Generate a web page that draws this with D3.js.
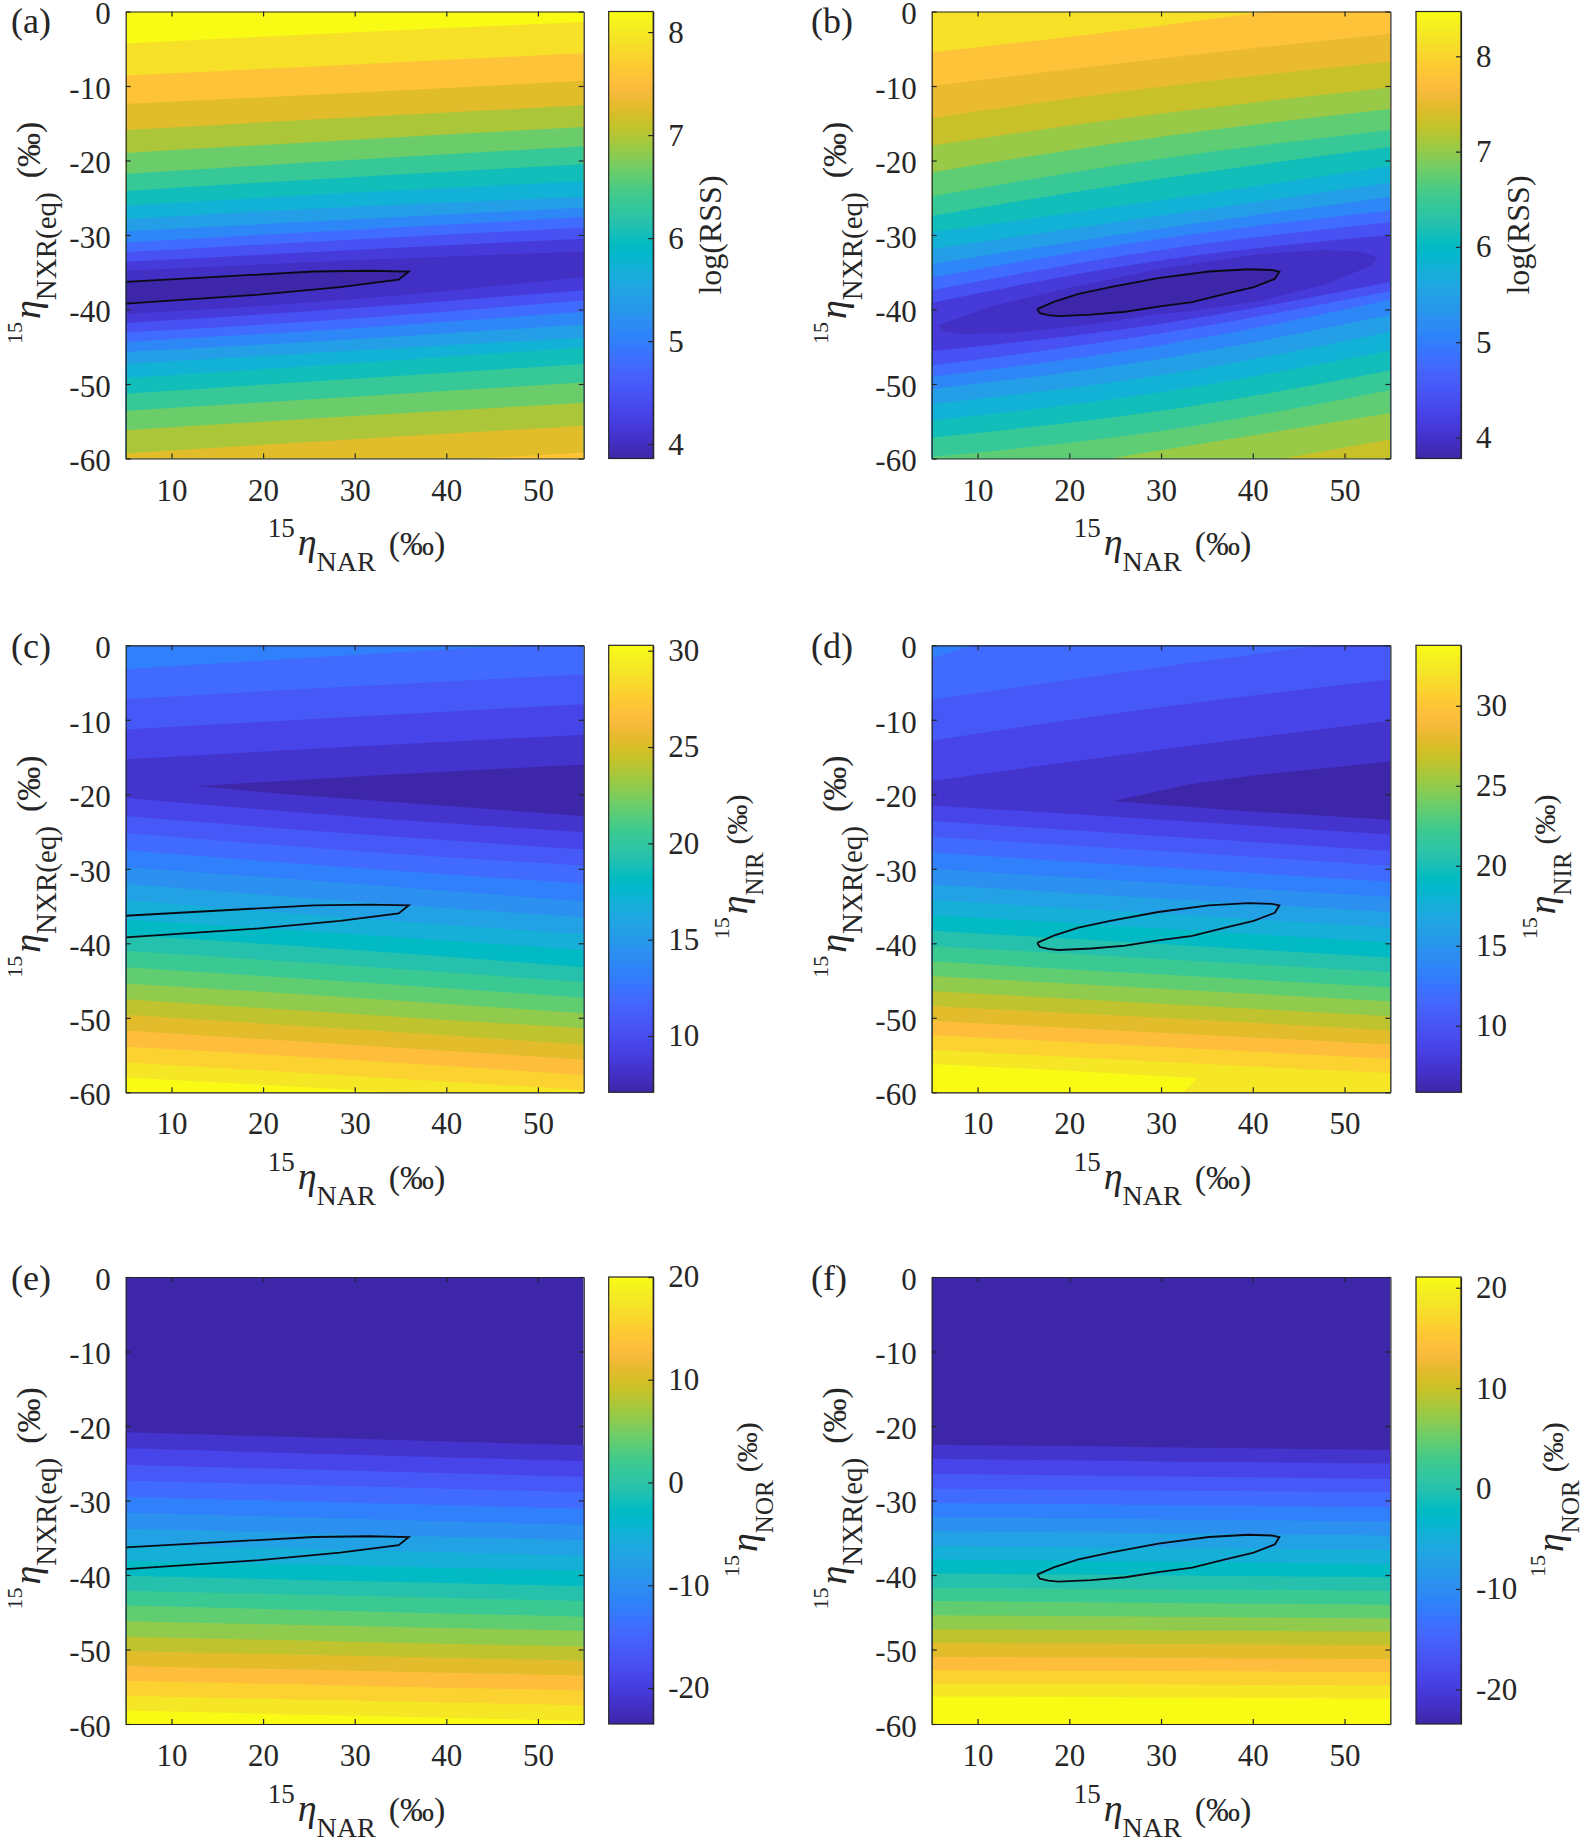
<!DOCTYPE html>
<meta charset="utf-8">
<style>
body { margin: 0; background: #fff; }
text { font-family: "Liberation Serif", "Times New Roman", serif; fill: #262626; }
.tick text { font-size: 31px; }
.axis path, .axis line { stroke: #262626; stroke-width: 1.2px; }
</style>
<svg width="1585" height="1841"></svg>
<script src="https://d3js.org/d3.v7.min.js"></script>
<script>

var xTicks = [10, 20, 30, 40, 50];
var yTicks = [0, -10, -20, -30, -40, -50, -60];

// matlab parula, 64 steps
var parulaRows = [
  [.2422,.1504,.6603],[.2504,.1650,.7076],[.2578,.1818,.7511],[.2647,.1978,.7952],
  [.2706,.2147,.8364],[.2751,.2342,.8710],[.2783,.2559,.8991],[.2803,.2782,.9221],
  [.2813,.3006,.9414],[.2810,.3228,.9579],[.2795,.3447,.9717],[.2760,.3667,.9829],
  [.2699,.3892,.9906],[.2602,.4123,.9952],[.2440,.4358,.9988],[.2206,.4603,.9973],
  [.1963,.4847,.9892],[.1834,.5074,.9798],[.1786,.5289,.9682],[.1764,.5499,.9520],
  [.1687,.5703,.9359],[.1540,.5902,.9218],[.1460,.6091,.9079],[.1380,.6276,.8973],
  [.1248,.6459,.8883],[.1113,.6635,.8763],[.0952,.6798,.8598],[.0689,.6948,.8394],
  [.0297,.7082,.8163],[.0036,.7203,.7917],[.0067,.7312,.7660],[.0433,.7411,.7394],
  [.0964,.7500,.7120],[.1408,.7584,.6842],[.1717,.7670,.6554],[.1938,.7758,.6251],
  [.2161,.7843,.5923],[.2470,.7918,.5567],[.2906,.7973,.5188],[.3406,.8008,.4789],
  [.3909,.8029,.4354],[.4456,.8024,.3909],[.5044,.7993,.3480],[.5616,.7942,.3045],
  [.6174,.7876,.2612],[.6720,.7793,.2227],[.7242,.7698,.1910],[.7738,.7598,.1646],
  [.8203,.7498,.1535],[.8634,.7406,.1596],[.9035,.7330,.1774],[.9393,.7288,.2100],
  [.9728,.7298,.2394],[.9956,.7434,.2371],[.9970,.7659,.2199],[.9952,.7861,.1990],
  [.9892,.8136,.1885],[.9786,.8386,.1766],[.9676,.8639,.1643],[.9610,.8890,.1537],
  [.9597,.9135,.1423],[.9628,.9373,.1265],[.9691,.9606,.1064],[.9769,.9839,.0805]
];

// feasible region outlines, [x, y]
var fitA = [[5,-36.3],[15.3,-35.6],[25.5,-34.9],[31.6,-34.8],[35.9,-34.9],[34.8,-36],[28.4,-37],[19.6,-38],[5,-39.2]];
var fitB = [[16.5,-39.95],[18.3,-38.97],[21,-37.9],[24.6,-36.95],[29.7,-35.8],[35.2,-34.9],[39.5,-34.6],[42.1,-34.7],[42.9,-34.9],
  [42.4,-35.9],[40.1,-37],[37,-37.9],[33.4,-39],[29.7,-39.6],[26.1,-40.3],[22.4,-40.7],[18.8,-40.9],[17.7,-40.76],[16.8,-40.5],[16.5,-39.95]];

// contour bands, top to bottom: [colour step below the edge, y at x=5, y at x=30, y at x=55]
var bandsA = [
  [13,-4.3,-2.8,-1.4],[12,-8.6,-7.1,-5.6],[11,-12.4,-10.9,-9.3],[10,-15.9,-14.2,-12.6],[9,-19,-17.2,-15.5],
  [8,-21.8,-19.9,-18.1],[7,-24.1,-22.2,-20.5],[6,-26.05,-24.3,-22.8],[5,-27.9,-26.2,-24.9],[4,-29.5,-27.9,-26.3],
  [3,-31,-29.3,-27.6],[2,-32.3,-30.6,-29],[1,-33.6,-32,-30.5],[.5,-34.8,-33.4,-32.2],
  [1,-40.6,-38.6,-35.6],[2,-41.8,-39.8,-37.4],[3,-43.1,-41.2,-38.8],[4,-44.35,-42.5,-40.3],[5,-45.7,-44,-42],
  [6,-47.3,-45.5,-43.8],[7,-49.2,-47.2,-45.1],[8,-51.3,-49.3,-47.3],[9,-53.6,-51.7,-49.8],[10,-56.2,-54.3,-52.5],
  [11,-59.3,-57.4,-55.6],[12,-63,-61,-59.2]
];
var bandsB = [
  [12,-5.5,-1.9,2.4],[11.2,-10,-6.3,-3],[10.5,-14.3,-10.1,-6.7],[9.7,-18,-13.7,-10.2],[8.8,-21.6,-16.8,-13.1],
  [8,-24.8,-19.75,-15.9],[7,-27.4,-22.4,-18.2],[6,-29.6,-25.3,-20.7],[5,-31.9,-27.4,-23],[4,-33.9,-29.1,-24.9],
  [3,-35.7,-30.5,-26.7],[2,-37.4,-32,-28.3],[1,-39.1,-33.4,-30],
  [2,-45.6,-41.9,-36.3],[3,-47.5,-43.2,-37.5],[4,-49,-44.8,-38.7],[5,-50.7,-46.6,-40.7],[6,-52.7,-48.8,-43],
  [7,-54.9,-51.1,-45.5],[8,-57.2,-53.6,-48.2],[8.8,-59.8,-56.3,-50.8],[9.7,-64,-58.9,-53.9],[10.5,-69,-63,-57.4]
];
var bandsC = [
  [4,-3.2,-1.3,.5],[3,-7.2,-5.5,-3.9],[2,-11.3,-9.6,-7.9],[1,-15.3,-13.6,-12],
  [2,-20.5,-23,-25.1],[3,-22.9,-25.3,-27.4],[4,-25.2,-27.6,-29.6],[5,-27.5,-29.85,-32],[6,-29.8,-32,-34.4],
  [7,-32,-34.4,-36.5],[8,-34.2,-36.6,-38.8],[9,-36.8,-38.8,-40.9],[10,-38.9,-40.9,-43.2],[11,-41,-43.05,-45.2],
  [12,-43.2,-45.2,-47.3],[13,-45.4,-47.3,-49.4],[14,-47.5,-49.5,-51.4],[15,-49.6,-51.55,-53.6],[16,-51.7,-53.65,-55.6],
  [17,-53.9,-55.65,-57.7],[18,-56,-57.8,-59.7],[19,-58,-59.7,-61.5]
];
var bandsD = [
  [4,-1.75,7.6,14],[3,-7.3,-2.9,1.2],[2,-12.8,-8.3,-4.6],[1,-18.2,-14,-10.1],
  [2,-21.5,-23.4,-25.4],[3,-23.6,-25.6,-27.6],[4,-25.7,-27.6,-29.6],[5,-27.8,-29.8,-31.75],[6,-30,-31.9,-33.8],
  [7,-32.1,-34,-35.8],[8,-34.2,-36,-37.9],[9,-36.2,-38,-39.9],[10,-38.3,-40.1,-41.9],[11,-40.35,-42.1,-43.85],
  [12,-42.4,-44.2,-45.9],[13,-44.4,-46.1,-47.8],[14,-46.4,-48.1,-49.8],[15,-48.4,-50,-51.7],[16,-50.4,-52,-53.6],
  [17,-52.3,-53.9,-55.5],[18,-54.3,-55.9,-57.4]
];
var bandsE = [
  [1,-20.84,-21.7,-22.6],[2,-23,-23.85,-24.7],[3,-25.2,-26,-26.8],[4,-27.3,-28.1,-28.9],[5,-29.5,-30.3,-31.1],
  [6,-31.6,-32.45,-33.3],[7,-33.8,-34.55,-35.3],[8,-35.9,-36.65,-37.4],[9,-38.1,-38.75,-39.4],[10,-40.1,-40.8,-41.5],
  [11,-42.1,-42.8,-43.5],[12,-44.1,-44.85,-45.6],[13,-46.2,-46.85,-47.5],[14,-48.3,-48.95,-49.6],[15,-50.2,-50.85,-51.5],
  [16,-52.2,-52.85,-53.5],[17,-54.2,-54.85,-55.5],[18,-56.2,-56.85,-57.5],[19,-58.2,-58.9,-59.6]
];
var bandsF = [
  [1,-22.5,-22.85,-23.2],[2,-24.4,-24.75,-25.05],[3,-26.4,-26.75,-27.1],[4,-28.4,-28.65,-28.9],[5,-30.3,-30.6,-30.9],
  [6,-32.2,-32.5,-32.85],[7,-34.1,-34.4,-34.7],[8,-36.1,-36.35,-36.6],[9,-37.9,-38.2,-38.55],[10,-39.8,-40.05,-40.3],
  [11,-41.7,-41.9,-42.1],[12,-43.5,-43.75,-44],[13,-45.4,-45.6,-45.8],[14,-47.3,-47.45,-47.6],[15,-49.1,-49.25,-49.4],
  [16,-51,-51.15,-51.3],[17,-52.8,-52.9,-53],[18,-54.6,-54.7,-54.8],[19,-56.3,-56.45,-56.6]
];

// closed patches that the band edges cannot describe: [colour step, outline]
var patchesA = [[0, fitA]];
var patchesB = [
  [.5, [[5.7,-42.1],[11.5,-39.6],[18.8,-37.4],[29.7,-34.6],[40.6,-32.6],[47.9,-32],[51.5,-32.2],[53.6,-33],[53,-34.1],[47.9,-36.6],
    [40.6,-38.9],[33.4,-40.2],[29,-40.7],[22.4,-42],[13.4,-43.2],[7.9,-43.3],[6.1,-42.9]]],
  [0, fitB]
];
var patchesC = [[0, [[12.9,-18.9],[31.6,-17.5],[55,-16],[55,-22.9],[31.6,-20.8],[22.6,-20]]]];
var patchesD = [
  [0, [[24.8,-20.9],[28.9,-19.8],[33,-18.7],[39.8,-17.5],[55,-15.6],[55,-23.4],[39.8,-22.3],[28.9,-21.3]]],
  [19, [[5,-56.2],[20,-57.1],[34,-58.1],[33,-59.3],[32,-60.5],[5,-60.5]]]
];

var cbDomainA = [3.86, 8.2],   cbTicksA = [4, 5, 6, 7, 8];
var cbDomainB = [3.78, 8.47],  cbTicksB = [4, 5, 6, 7, 8];
var cbDomainC = [7.08, 30.28], cbTicksC = [10, 15, 20, 25, 30];
var cbDomainD = [5.84, 33.78], cbTicksD = [10, 15, 20, 25, 30];
var cbDomainE = [-23.5, 20],   cbTicksE = [-20, -10, 0, 10, 20];
var cbDomainF = [-23.45, 21.07], cbTicksF = [-20, -10, 0, 10, 20];

var svg = d3.select("svg");

var parula = d3.scaleLinear()
    .domain(d3.range(64).map(function(i) { return i / 63; }))
    .range(parulaRows.map(function(c) { return d3.rgb(c[0] * 255, c[1] * 255, c[2] * 255).formatHex(); }));

var grad = svg.append("defs").append("linearGradient")
    .attr("id", "parula").attr("x1", 0).attr("y1", 1).attr("x2", 0).attr("y2", 0);
grad.selectAll("stop").data(parulaRows).enter().append("stop")
    .attr("offset", function(d, i) { return i / 63; })
    .attr("stop-color", function(d, i) { return parula(i / 63); });

var colA = {left: 125.7, width: 458, cbLeft: 608.7, cbWidth: 44.5, letter: 11},
    colB = {left: 931.7, width: 458.7, cbLeft: 1416, cbWidth: 45, letter: 811};
var rowTops = [11.5, 645.3, 1277], plotH = 447;

var panels = [
  {id: "a", col: colA, top: rowTops[0], first: 14, steps: 14, bands: bandsA, patches: patchesA, fit: fitA, dom: cbDomainA, ticks: cbTicksA, cb: "log"},
  {id: "b", col: colB, top: rowTops[0], first: 13, steps: 14, bands: bandsB, patches: patchesB, fit: fitB, dom: cbDomainB, ticks: cbTicksB, cb: "log"},
  {id: "c", col: colA, top: rowTops[1], first: 5, steps: 19, bands: bandsC, patches: patchesC, fit: fitA, dom: cbDomainC, ticks: cbTicksC, cb: "NIR", cbOff: 94, cbY: 294},
  {id: "d", col: colB, top: rowTops[1], first: 5, steps: 19, bands: bandsD, patches: patchesD, fit: fitB, dom: cbDomainD, ticks: cbTicksD, cb: "NIR", cbOff: 94, cbY: 294},
  {id: "e", col: colA, top: rowTops[2], first: 0, steps: 19, bands: bandsE, patches: [], fit: fitA, dom: cbDomainE, ticks: cbTicksE, cb: "NOR", cbOff: 104, cbY: 300},
  {id: "f", col: colB, top: rowTops[2], first: 0, steps: 19, bands: bandsF, patches: [], fit: fitB, dom: cbDomainF, ticks: cbTicksF, cb: "NOR", cbOff: 102, cbY: 300}
];

// isotope label: superscript 15, eta, subscript, per mille
function etaLabel(g, sub, sizes) {
  var t = g.append("text");
  t.append("tspan").attr("font-size", sizes[0]).attr("dy", -18).text("15");
  t.append("tspan").attr("font-size", 38).attr("font-style", "italic").attr("dy", 18).attr("dx", 3).text("\u03B7");
  t.append("tspan").attr("font-size", sizes[1]).attr("dy", 16).text(sub);
  t.append("tspan").attr("font-size", sizes[2]).attr("dy", -16).attr("dx", sizes[3]).text("(\u2030)");
  return t;
}

panels.forEach(function(p, n) {
  var L = p.col.left, W = p.col.width, T = p.top;
  var x = d3.scaleLinear().domain([5, 55]).range([0, W]);
  var y = d3.scaleLinear().domain([-60, 0]).range([plotH, 0]);
  var cb = d3.scaleLinear().domain(p.dom).range([plotH, 0]);

  var g = svg.append("g").attr("transform", "translate(" + L + "," + T + ")");

  svg.select("defs").append("clipPath").attr("id", "clip" + p.id)
    .append("rect").attr("width", W).attr("height", plotH);
  var plot = g.append("g").attr("clip-path", "url(#clip" + p.id + ")");

  function bandColor(k) { return parula(k / p.steps); }

  plot.append("rect").attr("width", W).attr("height", plotH).attr("fill", bandColor(p.first));

  var edgeX = [5, 30, 55];
  var area = d3.area()
      .curve(d3.curveNatural)
      .x(function(d, i) { return x(edgeX[i]); })
      .y0(plotH + 80)
      .y1(function(d) { return y(d); });

  plot.selectAll("path.band").data(p.bands).enter().append("path")
      .attr("class", "band")
      .attr("fill", function(d) { return bandColor(d[0]); })
      .attr("d", function(d) { return area(d.slice(1)); });

  var outline = d3.line().x(function(d) { return x(d[0]); }).y(function(d) { return y(d[1]); });

  plot.selectAll("path.patch").data(p.patches).enter().append("path")
      .attr("class", "patch")
      .attr("fill", function(d) { return bandColor(d[0]); })
      .attr("d", function(d) { return outline(d[1]) + "Z"; });

  plot.append("path").attr("d", outline(p.fit))
      .attr("fill", "none").attr("stroke", "#0a0a14").attr("stroke-width", 1.8);

  g.append("g").attr("class", "axis").attr("transform", "translate(0," + plotH + ")")
      .call(d3.axisBottom(x).tickValues(xTicks).tickSize(-5).tickSizeOuter(0).tickPadding(20).tickFormat(String));
  g.append("g").attr("class", "axis")
      .call(d3.axisTop(x).tickValues(xTicks).tickSize(-5).tickSizeOuter(0).tickFormat(""));
  var yLeft = g.append("g").attr("class", "axis")
      .call(d3.axisLeft(y).tickValues(yTicks).tickSize(-5).tickSizeOuter(0).tickPadding(15).tickFormat(String));
  g.append("g").attr("class", "axis").attr("transform", "translate(" + W + ",0)")
      .call(d3.axisRight(y).tickValues(yTicks).tickSize(-5).tickSizeOuter(0).tickFormat(""));
  yLeft.selectAll("text").attr("dy", ".4em");

  // colour bar
  var cg = svg.append("g").attr("transform", "translate(" + p.col.cbLeft + "," + T + ")");
  cg.append("rect").attr("width", p.col.cbWidth).attr("height", plotH)
      .attr("fill", "url(#parula)").attr("stroke", "#262626").attr("stroke-width", 1.2);
  var cbAxis = cg.append("g").attr("class", "axis").attr("transform", "translate(" + p.col.cbWidth + ",0)")
      .call(d3.axisRight(cb).tickValues(p.ticks).tickSize(-5).tickSizeOuter(0).tickPadding(15).tickFormat(String));
  cbAxis.select(".domain").attr("stroke", "none");

  // titles
  var xt = g.append("g").attr("transform", "translate(142,543.5)");
  etaLabel(xt, "NAR", [27, 28, 34, 13]);

  var yt = g.append("g").attr("transform", "translate(-86,332.5) rotate(-90)");
  etaLabel(yt, "NXR(eq)", [22, 29, 34, 14]);

  if (p.cb == "log") {
    cg.append("text").attr("transform", "translate(" + (p.col.cbWidth + 68) + "," + (plotH / 2) + ") rotate(-90)")
      .attr("text-anchor", "middle").attr("font-size", 32).text("log(RSS)");
  } else {
    var ct = cg.append("g").attr("transform", "translate(" + (p.col.cbWidth + p.cbOff) + "," + p.cbY + ") rotate(-90)");
    etaLabel(ct, p.cb, [22, 25, 30, 8]);
  }

  svg.append("text").attr("x", p.col.letter).attr("y", T + (n < 2 ? 21 : n < 4 ? 12.5 : 13))
     .attr("font-size", 36).text("(" + p.id + ")");
});

</script>
